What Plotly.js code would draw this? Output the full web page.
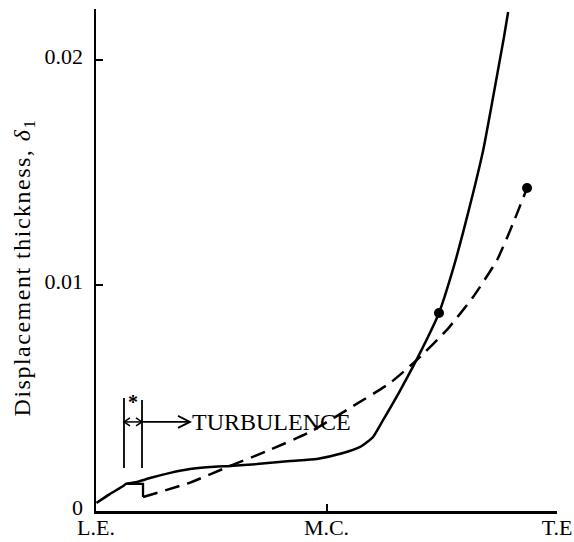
<!DOCTYPE html>
<html>
<head>
<meta charset="utf-8">
<script src="https://cdn.plot.ly/plotly-3.0.1.min.js"></script>
<style>
html,body{margin:0;padding:0;background:#fff;}
#chart{width:574px;height:542px;}
.ytitle{letter-spacing:1.5px;}
</style>
</head>
<body>
<div id="chart"></div>
<script>
// Chordwise position: 0 = leading edge (L.E.), 0.5 = mid chord (M.C.), 1 = trailing edge (T.E.)
const tickPositions = [0, 0.5, 1];
const tickLabels = ['L.E.', 'M.C.', 'T.E'];
const yTickValues = [0, 0.01, 0.02];
const yTickLabels = ['0', '0.01', '0.02'];

// Solid curve
const solidX = [0.001, 0.030, 0.059, 0.065, 0.089, 0.117, 0.161, 0.204, 0.247, 0.291, 0.349, 0.421, 0.479, 0.536, 0.573, 0.601, 0.623, 0.659, 0.703, 0.744, 0.774, 0.796, 0.818, 0.840, 0.876, 0.885, 0.894];
const solidY = [0.00036, 0.00075, 0.00111, 0.00120, 0.00129, 0.00146, 0.00169, 0.00186, 0.00195, 0.00200, 0.00208, 0.00222, 0.00231, 0.00257, 0.00284, 0.00328, 0.00404, 0.00532, 0.00701, 0.00878, 0.01069, 0.01233, 0.01410, 0.01601, 0.02000, 0.02102, 0.02213];

// Step at transition (drawn solid)
const stepX = [0.065, 0.102, 0.102];
const stepY = [0.00120, 0.00120, 0.00062];

// Dashed curve
const dashX = [0.102, 0.204, 0.291, 0.377, 0.464, 0.551, 0.638, 0.696, 0.761, 0.818, 0.870, 0.905, 0.935];
const dashY = [0.00062, 0.00126, 0.00200, 0.00271, 0.00350, 0.00457, 0.00568, 0.00670, 0.00803, 0.00949, 0.01113, 0.01277, 0.01432];

// End points marked with dots
const dotX = [0.744, 0.935];
const dotY = [0.00878, 0.01432];

// Transition markers
const transX = [0.0607, 0.0998];
const transYTop = [0.00501, 0.00492];
const transYBottom = 0.00191;
const arrowY = 0.00395;
const arrowEndX = 0.2039;

const black = '#000';
const font = 'Liberation Serif, Times New Roman, serif';

const traces = [
  {x: solidX, y: solidY, mode: 'lines', line: {color: black, width: 2.5, shape: 'spline', smoothing: 0.5}, hoverinfo: 'skip'},
  {x: stepX, y: stepY, mode: 'lines', line: {color: black, width: 2.3}, hoverinfo: 'skip'},
  {x: dashX, y: dashY, mode: 'lines', line: {color: black, width: 2.5, dash: '15px,8px', shape: 'spline', smoothing: 0.5}, hoverinfo: 'skip'},
  {x: dotX, y: dotY, mode: 'markers', marker: {color: black, size: 10}, hoverinfo: 'skip'}
];
transX.forEach((tx, i) => {
  traces.push({x: [tx, tx], y: [transYBottom, transYTop[i]], mode: 'lines', line: {color: black, width: 1.8}, hoverinfo: 'skip'});
});

const shapes = [
  // double arrow between transition lines
  {type: 'line', xref: 'x', yref: 'y', x0: transX[0], x1: transX[1], y0: arrowY, y1: arrowY, line: {color: black, width: 1.5}},
  {type: 'path', xref: 'x', yref: 'y', xsizemode: 'pixel', ysizemode: 'pixel', xanchor: transX[0], yanchor: arrowY, path: 'M6,-4 L0,0 L6,4', line: {color: black, width: 1.5}},
  {type: 'path', xref: 'x', yref: 'y', xsizemode: 'pixel', ysizemode: 'pixel', xanchor: transX[1], yanchor: arrowY, path: 'M-6,-4 L0,0 L-6,4', line: {color: black, width: 1.5}},
  // arrow towards TURBULENCE
  {type: 'line', xref: 'x', yref: 'y', x0: transX[1], x1: arrowEndX, y0: arrowY, y1: arrowY, line: {color: black, width: 1.8}},
  {type: 'path', xref: 'x', yref: 'y', xsizemode: 'pixel', ysizemode: 'pixel', xanchor: arrowEndX, yanchor: arrowY, path: 'M-12,-6 L0,0 L-12,6', line: {color: black, width: 1.8}}
];

const annotations = [
  {x: 0.2045, y: arrowY, xref: 'x', yref: 'y', text: 'TURBULENCE', showarrow: false, xanchor: 'left', yanchor: 'middle', font: {family: font, size: 24, color: black}},
  {x: (transX[0] + transX[1]) / 2, y: 0.00482, xref: 'x', yref: 'y', text: '<b>*</b>', showarrow: false, xanchor: 'center', yanchor: 'middle', font: {family: font, size: 20, color: black}}
];

const layout = {
  width: 574, height: 542,
  margin: {l: 96, r: 17, t: 9, b: 31},
  paper_bgcolor: '#fff', plot_bgcolor: '#fff',
  showlegend: false,
  font: {family: font, color: black, size: 22},
  xaxis: {
    range: [0, 1], tickvals: tickPositions, ticktext: tickLabels,
    ticks: 'inside', ticklen: 7, tickwidth: 2, tickcolor: black,
    showline: true, linewidth: 2.5, linecolor: black,
    showgrid: false, zeroline: false, fixedrange: true,
    ticklabelstandoff: -5,
    tickfont: {family: font, size: 22, color: black}
  },
  yaxis: {
    range: [0, 0.02226], tickvals: yTickValues, ticktext: yTickLabels,
    ticks: 'inside', ticklen: 7, tickwidth: 2, tickcolor: black,
    showline: true, linewidth: 2.5, linecolor: black,
    showgrid: false, zeroline: false, fixedrange: true,
    ticklabelstandoff: 6, ticklabelshift: -4,
    tickfont: {family: font, size: 22, color: black},
    title: {text: 'Displacement thickness, <i>δ</i><sub>1</sub>&nbsp;&nbsp;', font: {family: font, size: 24, color: black}, standoff: 7}
  },
  shapes: shapes,
  annotations: annotations
};

Plotly.newPlot('chart', traces, layout, {displayModeBar: false, staticPlot: true});
</script>
</body>
</html>
